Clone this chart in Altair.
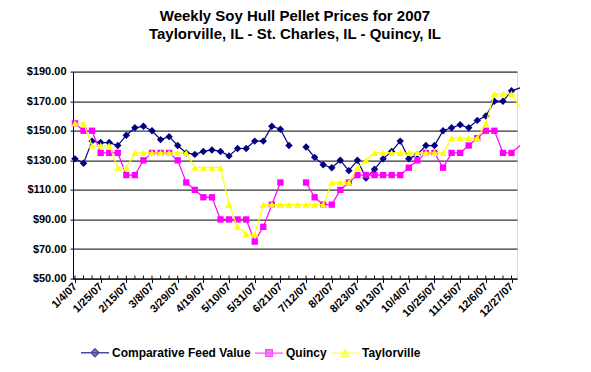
import altair as alt
import pandas as pd

# ---------------- data ----------------
series_names = ["Comparative Feed Value", "Quincy", "Taylorville"]
series_colors = ["#000080", "#FF00FF", "#FFFF00"]
series_marks = ["diamond", "square", "triangle-up"]

tick_labels = ["1/4/07", "1/25/07", "2/15/07", "3/8/07", "3/29/07", "4/19/07",
               "5/10/07", "5/31/07", "6/21/07", "7/12/07", "8/2/07", "8/23/07",
               "9/13/07", "10/4/07", "10/25/07", "11/15/07", "12/6/07", "12/27/07"]

# weekly values, week 0 = 1/4/07 ... week 51 = 12/27/07, week 52 = 1/3/08 (runs off the edge)
cfv = [131, 128, 143, 142, 142, 140, 147, 152, 153, 150, 144, 146, 140, 135, 134, 136,
       137, 136, 133, 138, 138, 143, 143, 153, 151, 140, None, 139, 132, 127, 125, 130,
       123, 130, 118, 124, 131, 136, 143, 131, 134, 140, 140, 150, 152, 154, 152, 157,
       160, 170, 170, 177, 179]
quincy = [155, 150, 150, 135, 135, 135, 120, 120, 130, 135, 135, 135, 130, 115, 110, 105,
          105, 90, 90, 90, 90, 75, 85, 100, 115, None, None, 115, 105, 100, 100, 110,
          115, 120, 120, 120, 120, 120, 120, 125, 130, 135, 135, 125, 135, 135, 140, 145,
          150, 150, 135, 135, 140]
taylor = [155, 155, 140, 140, 140, 125, 125, 135, 135, 135, 135, 135, 135, 135, 125, 125,
          125, 125, 100, 85, 80, 80, 100, 100, 100, 100, 100, 100, 100, 100, 115, 115,
          115, 125, 130, 135, 135, 135, 135, 135, 135, 135, 135, 135, 145, 145, 145, 145,
          155, 175, 175, 175, 166]

rows = []
for name, vals in zip(series_names, [cfv, quincy, taylor]):
    for i, v in enumerate(vals):
        rows.append({"week": i, "series": name, "value": v})
df = pd.DataFrame(rows)
weeks_df = pd.DataFrame({"week": list(range(52))})

FONT = "Liberation Sans"
W, H = 444, 207

label_js = "[" + ",".join("'" + t + "'" for t in tick_labels) + "][round(datum.value/3)]"

x_scale = alt.Scale(domain=[-0.23, 51.64], nice=False, zero=False)
y_scale = alt.Scale(domain=[50, 190], nice=False, zero=False)

x_axis = alt.Axis(values=list(range(0, 52, 3)), labelExpr=label_js,
                  labelAngle=-45, labelAlign="right", labelBaseline="middle",
                  labelPadding=2, tickSize=4, tickColor="black",
                  domainColor="black", grid=False, title=None,
                  labelFont=FONT, labelFontSize=11, labelFontWeight="bold",
                  labelColor="black", labelOverlap=False, labelBound=False)
x_enc = alt.X("week:Q", scale=x_scale, axis=x_axis)
y_enc = alt.Y("value:Q", scale=y_scale,
              axis=alt.Axis(values=list(range(50, 191, 20)), format="$,.2f",
                            grid=True, gridColor="black", gridOpacity=1, gridWidth=1,
                            tickSize=3, tickColor="black", domainColor="black",
                            labelPadding=4, title=None, labelFont=FONT,
                            labelFontSize=11, labelFontWeight="bold", labelColor="black"))

layers = []

# minor weekly ticks inside the bottom axis
layers.append(
    alt.Chart(weeks_df).mark_rule(color="black", strokeWidth=1).encode(
        x=x_enc, y=alt.value(H), y2=alt.value(H - 3))
)

for name, color, shp in zip(series_names, series_colors, series_marks):
    sub = alt.Chart(df).transform_filter(alt.datum.series == name)
    layers.append(
        sub.mark_line(color=color, strokeWidth=1.2,
                      invalid="break-paths-filter-domains").encode(x=x_enc, y=y_enc)
    )
    size = 55 if shp == "diamond" else (40 if shp == "square" else 50)
    layers.append(
        sub.transform_filter("datum.week <= 51 && isValid(datum.value)")
        .mark_point(shape=shp, filled=True, color=color, size=size, opacity=1)
        .encode(x=x_enc, y=y_enc)
    )

# legend carrier (no visible marks)
legend_paths = [
    "M-1,0L1,0M0,-0.29L0.29,0L0,0.29L-0.29,0Z",
    "M-1,0L1,0M-0.24,-0.24L0.24,-0.24L0.24,0.24L-0.24,0.24Z",
    "M-1,0L1,0M0,-0.27L0.3,0.24L-0.3,0.24Z",
]
leg = alt.Legend(title=None, orient="none", legendX=7, legendY=266, direction="horizontal",
                 columns=3, labelFont=FONT, labelFontSize=12, labelFontWeight="bold",
                 labelColor="black", symbolSize=784, symbolStrokeWidth=1.3,
                 labelOffset=2, columnPadding=1)
layers.append(
    alt.Chart(df).transform_filter("datum.week > 1000").mark_point(filled=True, size=784)
    .encode(
        fill=alt.Fill("series:N", scale=alt.Scale(domain=series_names, range=series_colors), legend=leg),
        stroke=alt.Stroke("series:N", scale=alt.Scale(domain=series_names, range=series_colors), legend=leg),
        shape=alt.Shape("series:N", scale=alt.Scale(domain=series_names, range=legend_paths), legend=leg),
    )
)

chart = alt.layer(*layers).properties(
    width=W, height=H,
    title=alt.TitleParams(
        text=["Weekly Soy Hull Pellet Prices for 2007",
              "Taylorville, IL - St. Charles, IL - Quincy, IL"],
        font=FONT, fontSize=15, fontWeight="bold", color="black",
        anchor="middle", offset=24, lineHeight=18),
    autosize=alt.AutoSizeParams(type="none"),
    padding={"left": 65, "top": 63.6, "right": 60, "bottom": 90},
).configure_view(fill="#C0C0C0", stroke=None).configure(background="white")

chart.save("out.html", embed_options={"renderer": "svg", "actions": False})
